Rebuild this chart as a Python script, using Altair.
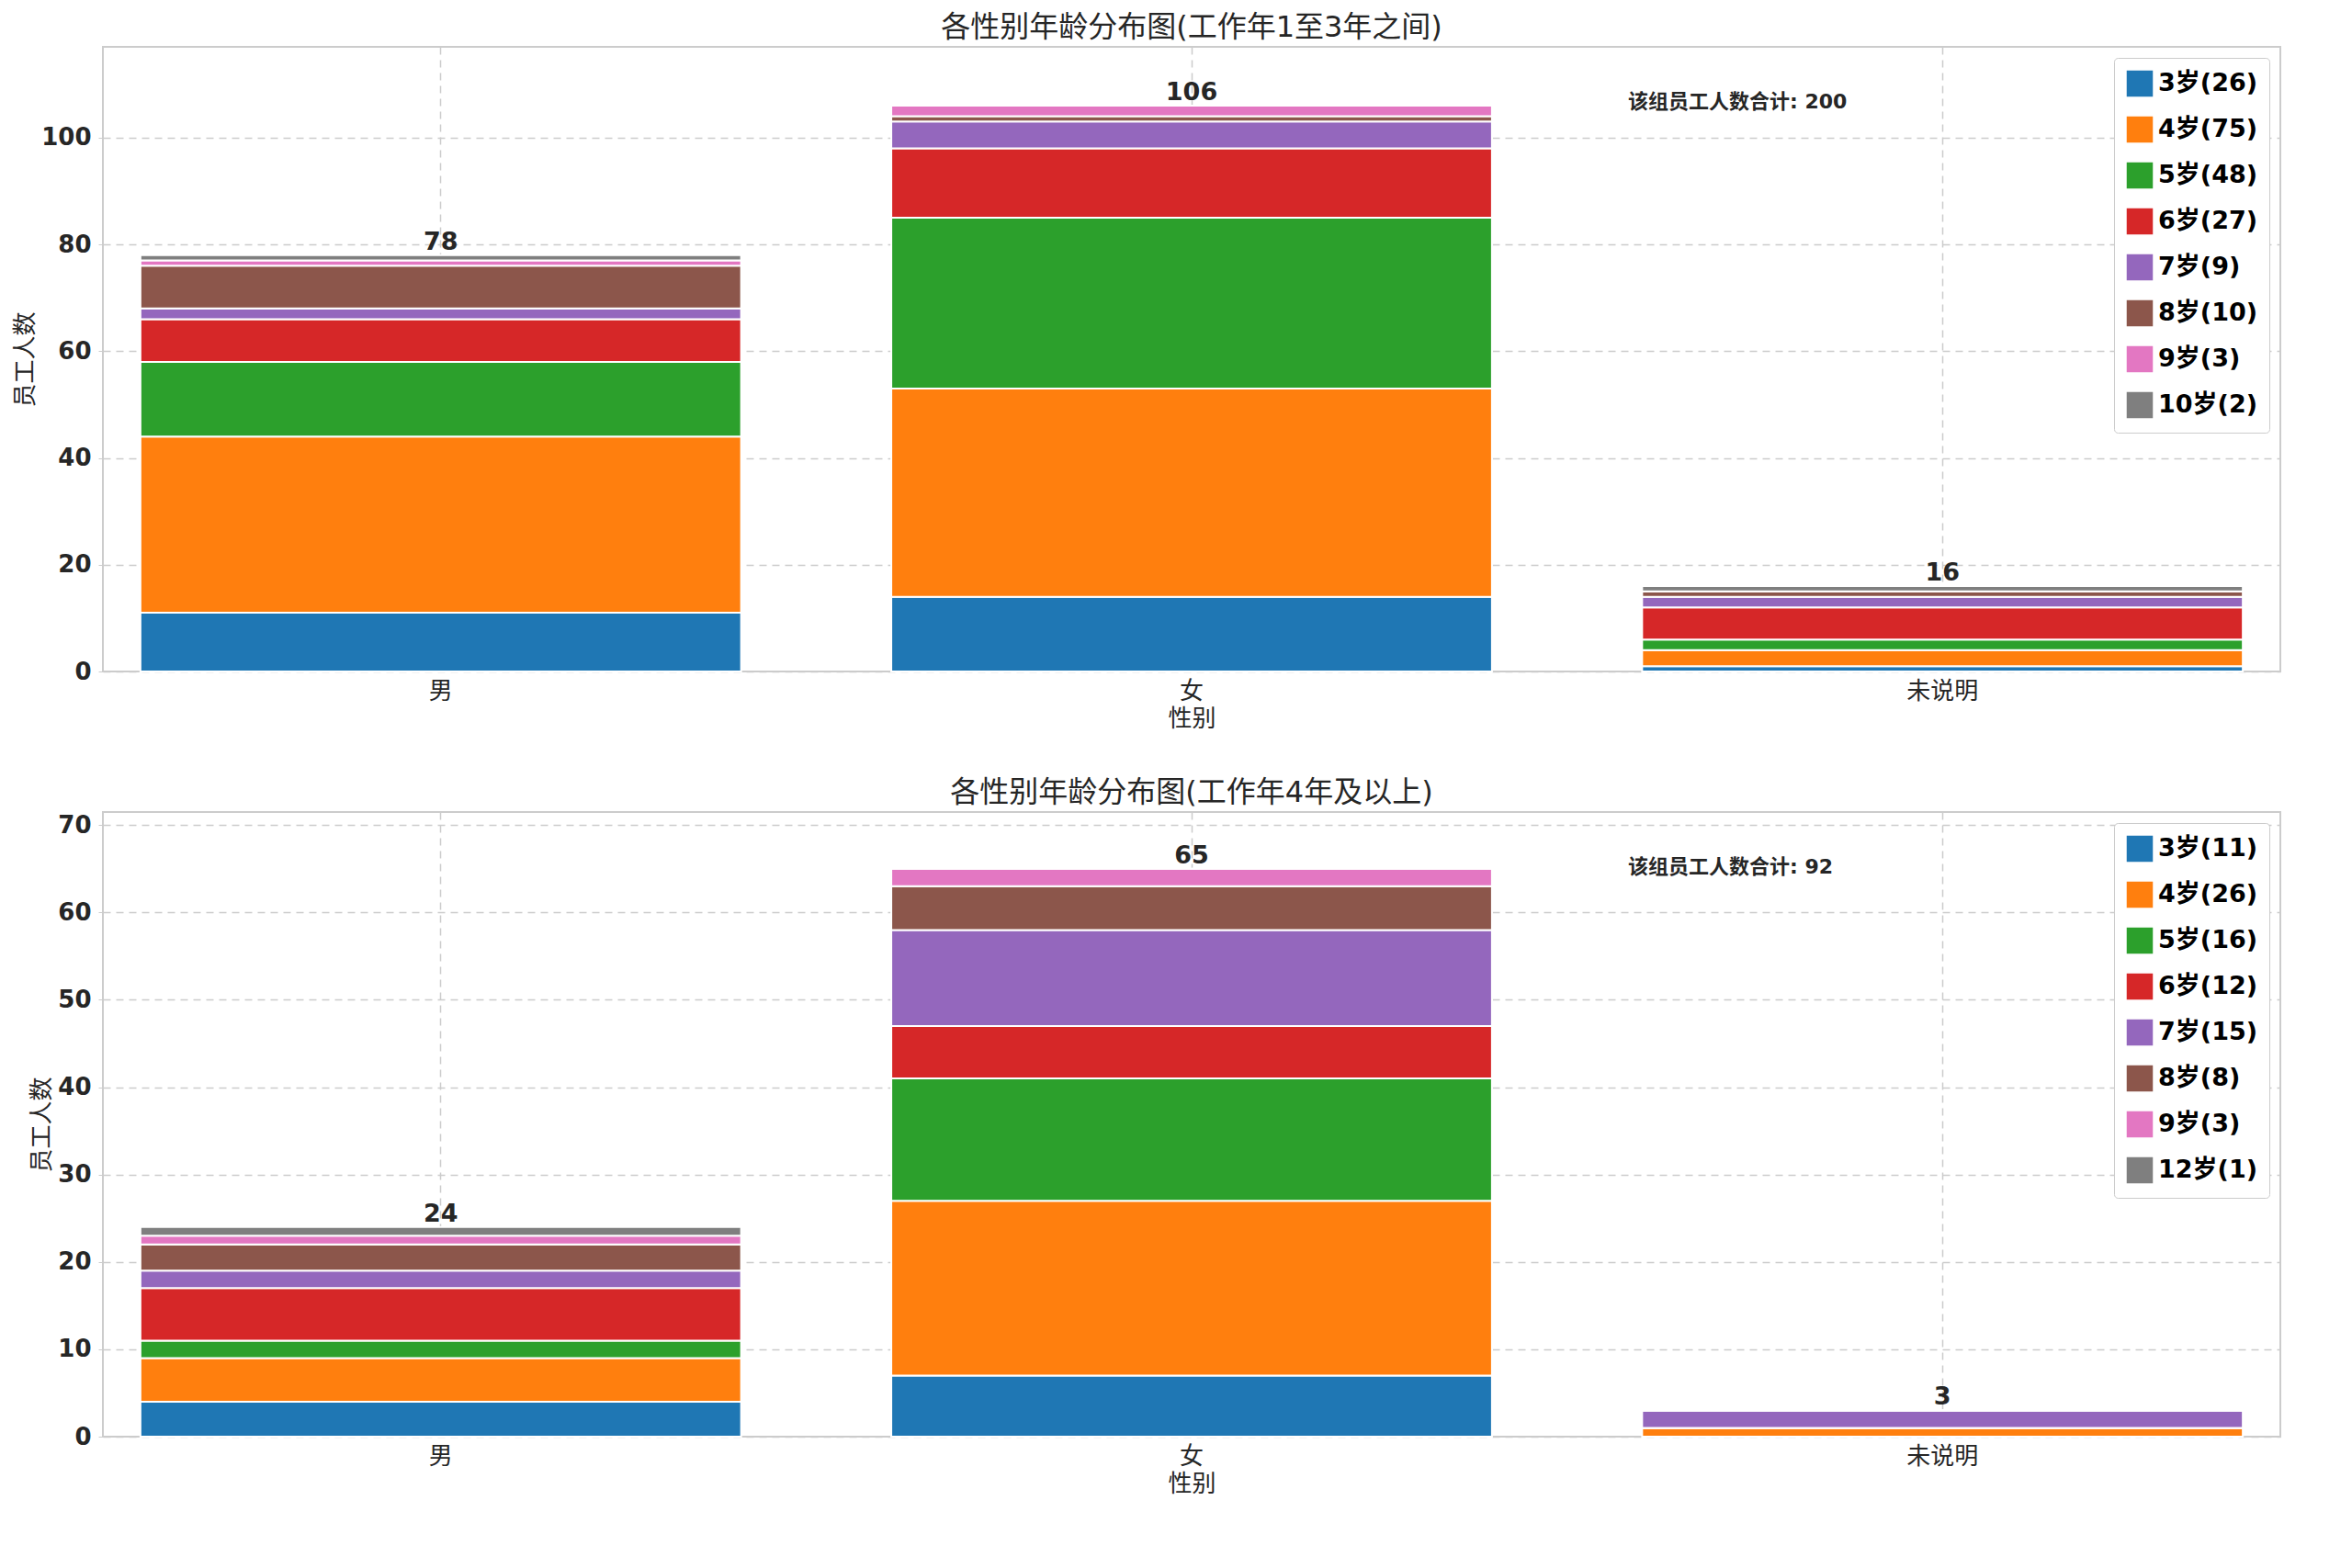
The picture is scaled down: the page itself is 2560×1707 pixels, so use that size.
import altair as alt
import pandas as pd

genders = ["男", "女", "未说明"]

# panel 1: 工作年1至3年
ages_1 = [3, 4, 5, 6, 7, 8, 9, 10]
male_1 = [11, 33, 14, 8, 2, 8, 1, 1]
female_1 = [14, 39, 32, 13, 5, 1, 2, 0]
unknown_1 = [1, 3, 2, 6, 2, 1, 0, 1]

# panel 2: 工作年4年及以上
ages_2 = [3, 4, 5, 6, 7, 8, 9, 12]
male_2 = [4, 5, 2, 6, 2, 3, 1, 1]
female_2 = [7, 20, 14, 6, 11, 5, 2, 0]
unknown_2 = [0, 1, 0, 0, 2, 0, 0, 0]

tab10 = ["#1f77b4", "#ff7f0e", "#2ca02c", "#d62728", "#9467bd", "#8c564b", "#e377c2", "#7f7f7f"]
FONT = "DejaVu Sans, Noto Sans CJK SC"


def panel(ages, series, title, ymax, ticks, note):
    rows = []
    totals_by_age = [sum(s[i] for s in series) for i in range(len(ages))]
    labels = [f"{a}岁({t})" for a, t in zip(ages, totals_by_age)]
    for g, vals in zip(genders, series):
        for i, v in enumerate(vals):
            rows.append({"gender": g, "age": labels[i], "order": i, "count": v})
    df = pd.DataFrame(rows)
    tot = pd.DataFrame({"gender": genders, "total": [sum(s) for s in series]})

    x = alt.X("gender:N", sort=genders, title="性别",
              scale=alt.Scale(paddingInner=0.2, paddingOuter=0.05),
              axis=alt.Axis(labelAngle=0))
    bars = alt.Chart(df).mark_bar(stroke="white", strokeWidth=2).encode(
        x=x,
        y=alt.Y("sum(count):Q", title="员工人数", scale=alt.Scale(domain=[0, ymax], nice=False),
                axis=alt.Axis(values=ticks)),
        color=alt.Color("age:N", sort=labels, scale=alt.Scale(domain=labels, range=tab10),
                        legend=alt.Legend(title=None, orient="top-right", fillColor="white",
                                          strokeColor="#cccccc", padding=12, cornerRadius=4,
                                          symbolType="square", symbolSize=900,
                                          labelFontSize=27, labelFontWeight="bold",
                                          rowPadding=14, offset=12)),
        order=alt.Order("order:Q"),
    )
    text = alt.Chart(tot).mark_text(dy=-14, fontSize=27, fontWeight="bold", color="#262626").encode(
        x=alt.X("gender:N", sort=genders), y="total:Q", text="total:Q"
    )
    ann = alt.Chart(pd.DataFrame({"t": [note]})).mark_text(
        align="left", fontSize=22, fontWeight="bold", color="#262626"
    ).encode(x=alt.value(1660), y=alt.value(60), text="t:N")
    return (bars + text + ann).resolve_scale(color="independent").properties(
        width=2370, height=680,
        title=alt.TitleParams(title, fontSize=32, fontWeight="normal", color="#262626"),
    )


top = panel(ages_1, [male_1, female_1, unknown_1], "各性别年龄分布图(工作年1至3年之间)", 117,
            [0, 20, 40, 60, 80, 100],
            f"该组员工人数合计: {sum(male_1) + sum(female_1) + sum(unknown_1)}")
bottom = panel(ages_2, [male_2, female_2, unknown_2], "各性别年龄分布图(工作年4年及以上)", 71.5,
               [0, 10, 20, 30, 40, 50, 60, 70],
               f"该组员工人数合计: {sum(male_2) + sum(female_2) + sum(unknown_2)}")

chart = alt.vconcat(top, bottom, spacing=50).resolve_scale(color="independent").resolve_legend(
    color="independent"
).configure(font=FONT).configure_axis(
    labelFontSize=26, labelFontWeight="bold", labelColor="#262626",
    titleFontSize=26, titleFontWeight="normal", titleColor="#262626",
    grid=True, gridDash=[8, 6], gridColor="#cccccc", gridWidth=1.5,
    domain=False, tickColor="#cccccc", labelPadding=8,
).configure_axisX(labelFontWeight="normal", ticks=False).configure_view(
    stroke="#cccccc", strokeWidth=2
)

chart.save("out.html", embed_options={"renderer": "svg", "actions": False})
